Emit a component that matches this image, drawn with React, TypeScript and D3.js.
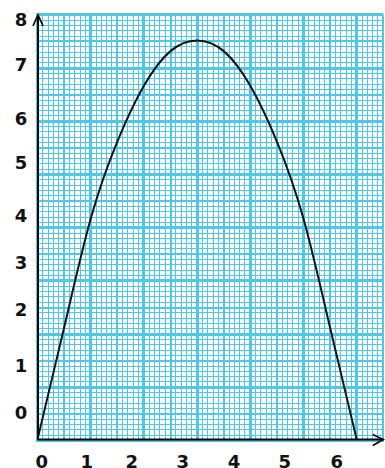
import React from "react";
import * as d3 from "d3";

// Curve sampled on the graph paper (units = large grid squares)
const curveX = [0, 1, 2, 3, 4, 5, 6, 7, 8, 9, 10, 11, 12];
const curveY = [0, 4.2, 8.3, 11.2, 13.3, 14.6, 15, 14.6, 13.3, 11.2, 8.3, 4.2, 0];

// Tick labels and where they sit (in grid units)
const xTickLabels = ["0", "1", "2", "3", "4", "5", "6"];
const xTickValues = [0.16, 1.85, 3.54, 5.46, 7.39, 9.3, 11.25];
const yTickLabels = ["0", "1", "2", "3", "4", "5", "6", "7", "8"];
const yTickValues = [1.02, 2.78, 4.88, 6.66, 8.42, 10.4, 12.07, 14.08, 15.8];

const GRID_W = 13;
const GRID_H = 16;

export default function App() {
  const W = 385;
  const H = 468;
  const x = d3.scaleLinear().domain([0, GRID_W]).range([37.5, 37.5 + GRID_W * 26.6]);
  const y = d3.scaleLinear().domain([0, GRID_H]).range([440.5, 440.5 - GRID_H * 26.6]);
  const cyan = "#4ec8e6";

  const snap = (v: number, w: number) => (w % 2 === 1 ? Math.round(v - 0.5) + 0.5 : Math.round(v));

  const vLines = d3.range(0, GRID_W * 5 + 1).map((i) => {
    const w = i % 10 === 0 ? 3 : i % 5 === 0 ? 2 : 1;
    return { p: snap(x(i / 5), w), w };
  });
  const hLines = d3.range(0, GRID_H * 5 + 1).map((i) => {
    const w = i % 10 === 0 ? 3 : i % 5 === 0 ? 2 : 1;
    return { p: snap(y(i / 5), w), w };
  });
  vLines.sort((a, b) => a.w - b.w);
  hLines.sort((a, b) => a.w - b.w);

  const pts: [number, number][] = curveX.map((v, i) => [v, curveY[i]]);
  const line = d3
    .line<[number, number]>()
    .x((d) => x(d[0]))
    .y((d) => y(d[1]) - 1)
    .curve(d3.curveNatural);

  const x0 = x(0);
  const y0 = y(0);
  const xr = x(GRID_W);
  const yt = y(GRID_H);
  const ay = y0 - 1;

  return (
    <svg width={W} height={H} style={{ position: "absolute", left: 0, top: 0 }}>
      <rect x={0} y={0} width={W} height={H} fill="#fff" />
      <g>
        {hLines.map((l, i) => (
          <line key={"h" + i} x1={x0 - 1.5} x2={xr} y1={l.p} y2={l.p} stroke={cyan} strokeWidth={l.w} />
        ))}
        {vLines.map((l, i) => (
          <line key={"v" + i} x1={l.p} x2={l.p} y1={yt} y2={y0 + 1.5} stroke={cyan} strokeWidth={l.w} />
        ))}
      </g>
      <path d={line(pts) || ""} fill="none" stroke="#111" strokeWidth={2} />
      {/* axes */}
      <line x1={x0 + 0.5} x2={x0 + 0.5} y1={ay} y2={yt} stroke="#000" strokeWidth={2} />
      <line x1={x0} x2={xr} y1={ay} y2={ay} stroke="#000" strokeWidth={2} />
      <polyline
        points={`${x0 - 4.5},${yt + 11} ${x0 + 0.5},${yt} ${x0 + 5.5},${yt + 11}`}
        fill="none"
        stroke="#000"
        strokeWidth={1.6}
      />
      <polyline
        points={`${xr - 10.5},${ay - 5} ${xr},${ay} ${xr - 10.5},${ay + 6}`}
        fill="none"
        stroke="#000"
        strokeWidth={1.6}
      />
      <g fontFamily="DejaVu Sans" fontWeight="bold" fontSize={18} fill="#111" textAnchor="middle">
        {xTickLabels.map((t, i) => (
          <text key={"xt" + i} x={x(xTickValues[i])} y={ay + 28.5}>
            {t}
          </text>
        ))}
        {yTickLabels.map((t, i) => (
          <text key={"yt" + i} x={21} y={y(yTickValues[i]) - 1} dy="0.36em">
            {t}
          </text>
        ))}
      </g>
    </svg>
  );
}
